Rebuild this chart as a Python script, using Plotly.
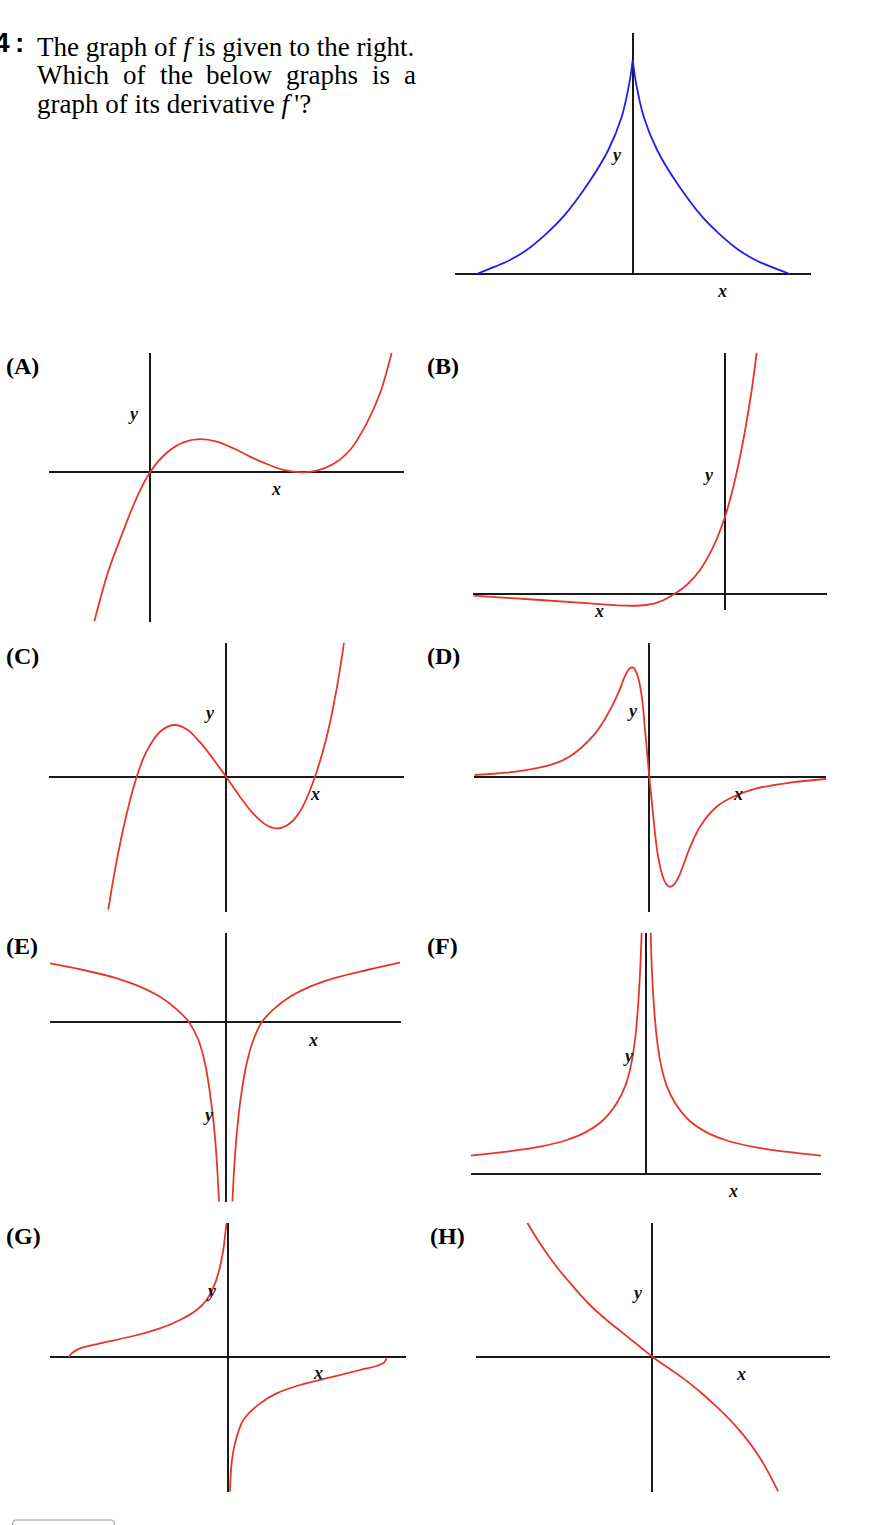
import plotly.graph_objects as go

W, H = 885, 1525
PX = 10.0  # pixels per data unit in every panel

# ---------------- data ----------------
# graph of f (two branches meeting at the cusp)
f_left_x = [-15.6, -13.77, -12.27, -10.6, -8.6, -6.94, -4.44, -2.44, -1.1, -0.34, 0]
f_left_y = [0, 0.73, 1.4, 2.4, 4.07, 5.73, 9.07, 12.4, 15.73, 19.07, 21.4]
f_right_x = [0, 0.34, 1.1, 2.44, 4.44, 6.94, 8.6, 10.6, 12.27, 13.8, 15.7]
f_right_y = [21.4, 19.07, 15.73, 12.4, 9.07, 5.73, 4.07, 2.4, 1.4, 0.73, 0]

a_x = [-5.57, -4.2, -2.8, -1.4, 0, 1.67, 3.33, 5.0, 6.67, 8.33, 10.0, 11.67, 13.33, 15.17, 16.67, 18.33, 20.0, 21.67, 23.0, 24.17]
a_y = [-14.93, -10.0, -6.2, -2.7, 0, 1.95, 3.0, 3.32, 3.07, 2.4, 1.57, 0.83, 0.25, 0, 0.17, 0.83, 2.23, 4.9, 7.9, 11.97]

b_x = [-25.17, -18.5, -13.5, -9.83, -7.83, -6.5, -5.07, -3.83, -2.5, -1.17, 0, 0.83, 1.83, 2.67, 3.17]
b_y = [-0.17, -0.6, -0.93, -1.17, -1.1, -0.77, 0, 0.9, 2.4, 4.73, 7.73, 10.7, 15.4, 20.4, 24.13]

c_x = [-11.77, -10.93, -9.93, -8.93, -7.93, -6.6, -5.2, -3.93, -2.6, -1.3, 0, 1.4, 2.73, 4.07, 5.2, 6.4, 7.5, 8.9, 10.07, 11.07, 11.8]
c_y = [-13.3, -8.4, -3.7, 0, 2.55, 4.5, 5.17, 4.75, 3.45, 1.8, 0, -2.0, -3.7, -4.85, -5.17, -4.65, -3.3, 0, 4.0, 8.8, 13.4]

d_x = [-17.5, -14.3, -11.5, -9.5, -8.0, -6.8, -5.6, -4.6, -3.8, -3.0, -2.5, -2.0, -1.6, -1.25, -0.95, -0.7, -0.4, 0,
       0.4, 0.8, 1.2, 1.55, 1.85, 2.15, 2.5, 2.95, 3.45, 4.1, 5.07, 6.73, 8.4, 10.73, 14.07, 17.67]
d_y = [0.17, 0.4, 0.8, 1.3, 2.0, 2.9, 4.1, 5.5, 6.9, 8.6, 9.9, 10.8, 10.9, 10.3, 9.2, 7.6, 4.4, 0,
       -4.0, -7.5, -9.5, -10.5, -10.9, -11.0, -10.75, -10.0, -8.7, -7.0, -5.0, -3.0, -2.0, -1.17, -0.6, -0.23]

e_left_x = [-17.57, -14.23, -10.9, -8.57, -6.57, -4.9, -3.67, -2.73, -2.07, -1.57, -1.17, -0.9, -0.67]
e_left_y = [5.9, 5.23, 4.4, 3.57, 2.55, 1.3, 0, -1.77, -4.1, -7.1, -10.43, -13.77, -17.93]
e_right_x = [0.67, 0.9, 1.17, 1.57, 2.1, 2.77, 3.6, 4.77, 6.43, 8.43, 10.77, 14.1, 17.43]
e_right_y = [-17.93, -13.77, -10.43, -7.1, -4.1, -1.77, 0, 1.3, 2.55, 3.57, 4.4, 5.23, 5.97]

g_f_left_x = [-17.53, -13.93, -10.6, -7.93, -5.93, -4.27, -2.93, -2.1, -1.53, -1.1, -0.8, -0.6, -0.43]
g_f_left_y = [1.87, 2.27, 2.77, 3.43, 4.27, 5.43, 7.1, 8.77, 10.77, 13.43, 16.77, 20.1, 24.17]
g_f_right_x = [0.47, 0.6, 0.8, 1.1, 1.53, 2.1, 2.93, 4.27, 5.93, 7.93, 10.6, 13.93, 17.5]
g_f_right_y = [24.17, 20.1, 16.77, 13.43, 10.77, 8.77, 7.1, 5.43, 4.27, 3.43, 2.77, 2.27, 1.87]

g_left_x = [-15.93, -15.67, -14.83, -12.83, -9.5, -6.83, -4.83, -3.17, -2.17, -1.33, -0.83, -0.5, -0.3, -0.17]
g_left_y = [0, 0.33, 0.83, 1.33, 2.07, 2.83, 3.67, 4.67, 5.67, 7.33, 9.0, 10.67, 12.33, 13.4]
g_right_x = [0.17, 0.33, 0.67, 1.5, 3.17, 4.83, 7.17, 10.5, 13.17, 14.83, 15.57, 15.83]
g_right_y = [-13.5, -10.67, -8.67, -6.33, -4.67, -3.67, -2.83, -2.0, -1.33, -0.93, -0.6, -0.17]

h_x = [-12.5, -11.23, -9.57, -7.9, -6.23, -4.57, -2.9, -1.23, 0, 1.43, 3.1, 4.77, 6.43, 8.1, 9.77, 11.1, 12.6]
h_y = [13.4, 11.33, 9.0, 7.0, 5.17, 3.67, 2.33, 1.0, 0, -1.0, -2.17, -3.5, -5.0, -6.67, -8.67, -10.67, -13.5]

panel_letters = ["(A)", "(B)", "(C)", "(D)", "(E)", "(F)", "(G)", "(H)"]
line2_words = ["Which", "of", "the", "below", "graphs", "is", "a"]

# ---------------- styles / layout geometry (pixels) ----------------
RED = "#e8352b"
BLUE = "#1e1ef0"
AXIS = "#1a1a1a"
SERIF = "Liberation Serif, Times New Roman, serif"

# key, list of (x, y) series, colour, plot box (x0, x1, y0, y1), origin (ox, oy),
# y-label centre, x-label centre
panels = [
    ("f", [(f_left_x, f_left_y), (f_right_x, f_right_y)], BLUE, (455, 811, 32.7, 275), (632.7, 274), (616.7, 156.7), (721.7, 293)),
    ("A", [(a_x, a_y)], RED, (49, 404, 352.7, 621.7), (150, 472.3), (133.3, 416), (276, 490.7)),
    ("B", [(b_x, b_y)], RED, (473.3, 826.7, 352.7, 610), (725, 594), (708.3, 476.7), (599.3, 613.3)),
    ("C", [(c_x, c_y)], RED, (49, 404, 642.7, 911.7), (226, 776.7), (209.3, 715), (315, 795.7)),
    ("D", [(d_x, d_y)], RED, (474.3, 826, 642.7, 911.7), (649.3, 776.7), (632.7, 713.3), (737.7, 795.7)),
    ("E", [(e_left_x, e_left_y), (e_right_x, e_right_y)], RED, (50, 401, 932.7, 1201.7), (225.7, 1022.3), (208.3, 1116.7), (313.3, 1041.7)),
    ("F", [(g_f_left_x, g_f_left_y), (g_f_right_x, g_f_right_y)], RED, (470.7, 821, 932.7, 1175.3), (646, 1174.3), (628.3, 1058.3), (733.3, 1193.3)),
    ("G", [(g_left_x, g_left_y), (g_right_x, g_right_y)], RED, (50, 406, 1222.7, 1491.7), (228.3, 1356.7), (211.7, 1292.7), (318.3, 1375)),
    ("H", [(h_x, h_y)], RED, (475.7, 830, 1222.7, 1491.7), (652.3, 1356.7), (637.7, 1295), (741, 1375.7)),
]

letter_pos = [(4, 366), (425, 366), (4, 656), (425, 656), (4, 946), (425, 946), (4, 1236), (428, 1236)]
line2_x = [35, 121, 157.5, 204, 284, 370, 401.5]
QSIZE = 27
LINE_Y = [47, 75.5, 104]


def pxx(p):
    return p / W


def pxy(p):
    return 1 - p / H


fig = go.Figure()
annotations = []

for i, (key, series, color, box, org, ylab, xlab) in enumerate(panels):
    n = i + 1
    sfx = "" if n == 1 else str(n)
    x0, x1, y0, y1 = box
    ox, oy = org
    for xs, ys in series:
        fig.add_trace(go.Scatter(
            x=xs, y=ys, mode="lines",
            line=dict(color=color, width=1.8, shape="spline", smoothing=1.0),
            xaxis="x" + sfx, yaxis="y" + sfx, hoverinfo="skip", showlegend=False,
        ))
    common = dict(showgrid=False, showticklabels=False, ticks="", showline=False,
                  zeroline=True, zerolinecolor=AXIS, zerolinewidth=2, fixedrange=True)
    fig.layout["xaxis" + sfx] = dict(domain=[pxx(x0), pxx(x1)],
                                      range=[(x0 - ox) / PX, (x1 - ox) / PX],
                                      anchor="y" + sfx, **common)
    fig.layout["yaxis" + sfx] = dict(domain=[pxy(y1), pxy(y0)],
                                      range=[(oy - y1) / PX, (oy - y0) / PX],
                                      anchor="x" + sfx, **common)
    for txt, (lx, ly) in (("y", ylab), ("x", xlab)):
        annotations.append(dict(text=f"<b><i>{txt}</i></b>", x=pxx(lx), y=pxy(ly - 2),
                                xref="paper", yref="paper", xanchor="center", yanchor="middle",
                                showarrow=False, font=dict(family=SERIF, size=18, color="#111")))

for lab, (lx, ly) in zip(panel_letters, letter_pos):
    annotations.append(dict(text=f"<b>{lab}</b>", x=pxx(lx), y=pxy(ly), xref="paper", yref="paper",
                            xanchor="left", yanchor="middle", showarrow=False,
                            font=dict(family=SERIF, size=24, color="#000")))

# question number (partly cut off at the left edge, as in the reference) and text
SANS = "Liberation Sans, Arial, sans-serif"
annotations.append(dict(text="<b>4</b>", x=pxx(11.5), y=pxy(42), xref="paper", yref="paper",
                        xanchor="right", yanchor="middle", showarrow=False,
                        font=dict(family=SANS, size=28, color="#000")))
annotations.append(dict(text="<b>:</b>", x=pxx(12.5), y=pxy(42), xref="paper", yref="paper",
                        xanchor="left", yanchor="middle", showarrow=False,
                        font=dict(family=SANS, size=28, color="#000")))
annotations.append(dict(text="The graph of <i>f</i> is given to the right.", x=pxx(35), y=pxy(LINE_Y[0]),
                        xref="paper", yref="paper", xanchor="left", yanchor="middle", showarrow=False,
                        font=dict(family=SERIF, size=QSIZE, color="#000")))
for w, wx in zip(line2_words, line2_x):
    annotations.append(dict(text=w, x=pxx(wx), y=pxy(LINE_Y[1]), xref="paper", yref="paper",
                            xanchor="left", yanchor="middle", showarrow=False,
                            font=dict(family=SERIF, size=QSIZE, color="#000")))
annotations.append(dict(text="graph of its derivative <i>f</i>\u2009'?", x=pxx(35), y=pxy(LINE_Y[2]),
                        xref="paper", yref="paper", xanchor="left", yanchor="middle", showarrow=False,
                        font=dict(family=SERIF, size=QSIZE, color="#000")))

# partially visible button outline at the bottom of the page
bx0, bx1, by0, by1 = 12.7, 114.3, 1520, 1530
button_path = (f"M {pxx(bx0)},{pxy(by1)} L {pxx(bx0)},{pxy(by0 + 3)} "
               f"Q {pxx(bx0)},{pxy(by0)} {pxx(bx0 + 3)},{pxy(by0)} "
               f"L {pxx(bx1 - 3)},{pxy(by0)} Q {pxx(bx1)},{pxy(by0)} {pxx(bx1)},{pxy(by0 + 3)} "
               f"L {pxx(bx1)},{pxy(by1)}")

fig.update_layout(
    width=W, height=H, autosize=False,
    margin=dict(l=0, r=0, t=0, b=0, pad=0),
    paper_bgcolor="white", plot_bgcolor="white",
    annotations=annotations,
    shapes=[dict(type="path", path=button_path, xref="paper", yref="paper",
                 line=dict(color="#9a9a9a", width=1))],
    showlegend=False,
)

fig.write_html("out.html", config={"displayModeBar": False, "staticPlot": True},
               post_script="document.body.style.margin='0';document.body.style.overflow='hidden';")
